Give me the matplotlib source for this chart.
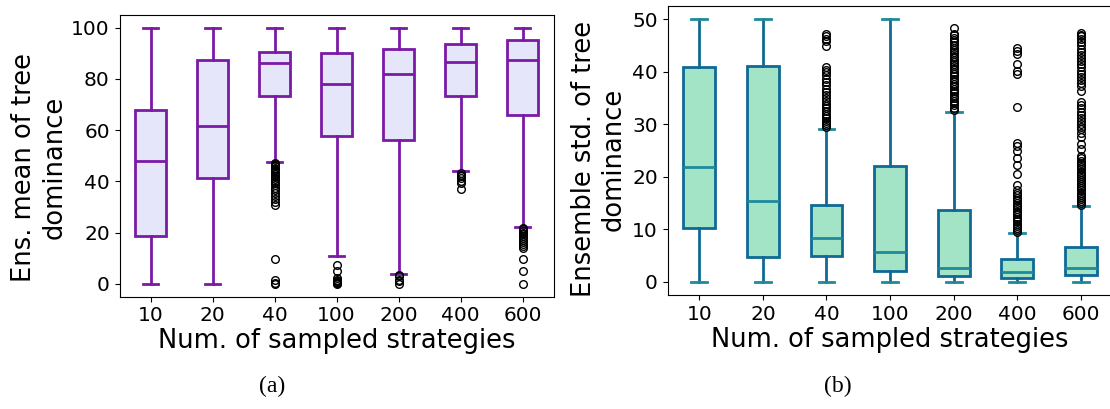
import matplotlib
matplotlib.use("Agg")
import matplotlib.pyplot as plt

# categories (number of sampled strategies)
categories = ["10", "20", "40", "100", "200", "400", "600"]

# (a) ensemble mean of tree dominance: box statistics
mean_q1 = [18.5, 41.4, 73.2, 57.9, 56.1, 73.2, 66.0]
mean_med = [47.9, 61.8, 86.3, 78.2, 81.8, 86.8, 87.3]
mean_q3 = [67.7, 87.6, 90.7, 90.0, 91.8, 93.6, 95.4]
mean_lo = [0.0, 0.0, 47.6, 10.8, 3.8, 43.9, 22.1]
mean_hi = [100.0, 100.0, 100.0, 100.0, 100.0, 100.0, 100.0]
mean_fliers = [
    [],
    [],
    [47.2, 46.8, 46.3, 45.9, 45.4, 45.0, 44.6, 44.1, 43.5, 42.9, 42.2, 41.6,
     40.8, 40.1, 39.3, 38.4, 37.6, 36.5, 35.3, 34.2, 33.1, 31.9, 30.8,
     9.6, 1.5, 0.4, 0.0],
    [7.3, 5.0, 2.2, 1.4, 1.0, 0.7, 0.4, 0.1, 0.0],
    [3.4, 2.9, 1.6, 0.9, 0.0],
    [43.3, 42.6, 42.0, 41.2, 40.3, 39.5, 37.1],
    [21.7, 21.2, 20.6, 20.0, 19.3, 18.6, 17.9, 17.1, 16.3, 15.6, 14.8, 14.1,
     9.6, 5.1, 0.0],
]

# (b) ensemble std. of tree dominance
std_q1 = [10.3, 4.8, 4.9, 2.0, 1.1, 0.7, 1.3]
std_med = [21.9, 15.4, 8.4, 5.6, 2.7, 1.8, 2.7]
std_q3 = [40.8, 41.1, 14.7, 22.1, 13.6, 4.3, 6.7]
std_lo = [0.0, 0.0, 0.0, 0.0, 0.0, 0.0, 0.0]
std_hi = [50.0, 50.0, 29.0, 50.0, 32.4, 9.3, 14.5]
std_fliers = [
    [],
    [],
    [29.4, 29.8, 30.2, 30.7, 31.1, 31.6, 32.0, 32.5, 33.0, 33.4, 33.9, 34.4,
     34.9, 35.5, 36.1, 36.8, 37.4, 38.0, 38.7, 39.3, 39.9, 40.4, 40.9,
     44.9, 45.8, 46.3, 46.8, 47.2],
    [],
    [32.7, 33.1, 33.6, 34.0, 34.5, 35.0, 35.4, 35.9, 36.3, 36.8, 37.3, 37.7,
     38.2, 38.7, 39.1, 39.6, 40.0, 40.5, 41.0, 41.4, 41.9, 42.3, 42.8, 43.3,
     43.7, 44.2, 44.6, 45.1, 45.6, 46.0, 46.5, 46.9, 47.2, 48.4],
    [9.5, 9.9, 10.3, 10.7, 11.1, 11.6, 12.0, 12.4, 12.9, 13.3, 13.8, 14.2,
     14.7, 15.1, 15.6, 16.0, 16.5, 17.0, 17.5, 18.5, 20.6, 22.3, 23.6, 24.9,
     25.8, 26.4, 33.2, 39.6, 40.2, 41.4, 43.4, 44.0, 44.6],
    [14.6, 15.0, 15.4, 15.8, 16.2, 16.6, 17.0, 17.4, 17.8, 18.2, 18.6, 19.0,
     19.4, 19.8, 20.2, 20.6, 21.0, 21.4, 21.8, 22.2, 22.6, 23.0, 23.5, 24.0,
     25.2, 26.3, 27.5, 28.4, 29.0, 29.5, 30.0, 30.6, 31.2, 31.8, 32.4, 33.0,
     33.6, 34.2, 36.3, 37.2, 37.8, 38.4, 39.0, 39.6, 40.2, 40.8, 41.4, 42.0,
     42.6, 43.2, 43.8, 44.4, 45.0, 45.6, 46.2, 46.7, 47.0, 47.3],
]


def make_stats(q1, med, q3, lo, hi, fliers):
    return [dict(label=c, q1=a, med=b, q3=d, whislo=e, whishi=f, fliers=g)
            for c, a, b, d, e, f, g in zip(categories, q1, med, q3, lo, hi, fliers)]


fig = plt.figure(figsize=(11.1, 4.09), dpi=100)

flier_style = dict(marker="o", markerfacecolor="none", markeredgecolor="black",
                   markersize=5.5, markeredgewidth=1.0, linestyle="none")

# (a) left panel
purple = "#7a1aa6"
ax1 = fig.add_axes([0.1077, 0.2750, 0.3910, 0.6883])
ax1.bxp(make_stats(mean_q1, mean_med, mean_q3, mean_lo, mean_hi, mean_fliers),
        widths=0.5, patch_artist=True,
        boxprops=dict(facecolor="#e6e6fa", edgecolor=purple, linewidth=2),
        whiskerprops=dict(color=purple, linewidth=2),
        capprops=dict(color=purple, linewidth=2),
        medianprops=dict(color=purple, linewidth=2),
        flierprops=flier_style)
ax1.set_xlim(0.5, 7.5)
ax1.set_ylim(-5, 105)
ax1.set_yticks([0, 20, 40, 60, 80, 100])
ax1.tick_params(labelsize=14.5)
ax1.set_xlabel("Num. of sampled strategies", fontsize=18.5, labelpad=2)
ax1.set_ylabel("Ens. mean of tree\ndominance", fontsize=18.5)
ax1.yaxis.set_label_coords(-0.12, 0.46)

# (b) right panel
dark_blue = "#0f6996"
teal = "#1f8a9a"
ax2 = fig.add_axes([0.6014, 0.2787, 0.4009, 0.7066])
ax2.bxp(make_stats(std_q1, std_med, std_q3, std_lo, std_hi, std_fliers),
        widths=0.5, patch_artist=True,
        boxprops=dict(facecolor="#a3e4c7", edgecolor=dark_blue, linewidth=2),
        whiskerprops=dict(color=dark_blue, linewidth=2),
        capprops=dict(color=teal, linewidth=2),
        medianprops=dict(color=teal, linewidth=2),
        flierprops=flier_style)
ax2.set_xlim(0.5, 7.5)
ax2.set_ylim(-2.5, 52.5)
ax2.set_yticks([0, 10, 20, 30, 40, 50])
ax2.tick_params(labelsize=14.5)
ax2.set_xlabel("Num. of sampled strategies", fontsize=18.5, labelpad=2)
ax2.set_ylabel("Ensemble std. of tree\ndominance", fontsize=18.5)
ax2.yaxis.set_label_coords(-0.092, 0.47)

# subfigure captions
fig.text(0.245, 0.054, "(a)", ha="center", va="center", fontsize=17, family="Liberation Serif")
fig.text(0.755, 0.054, "(b)", ha="center", va="center", fontsize=17, family="Liberation Serif")

fig.savefig("out.png", dpi=100)
